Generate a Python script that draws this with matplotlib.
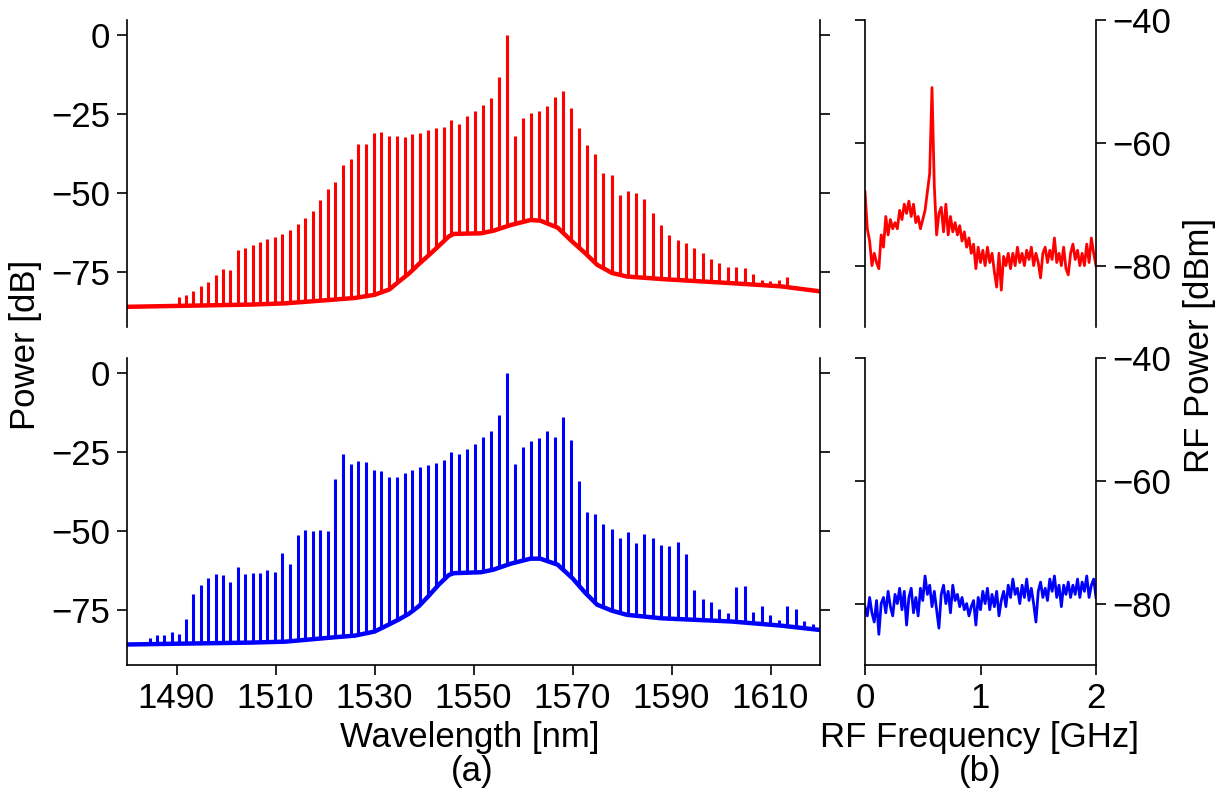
import matplotlib
matplotlib.use("Agg")
import matplotlib.pyplot as plt
import numpy as np

plt.rcParams['font.family'] = ['Liberation Sans', 'DejaVu Sans']
plt.rcParams['font.size'] = 25

# comb line wavelengths [nm] (~200 GHz grid)
comb_wl = [1484.60, 1486.06, 1487.53, 1489.00, 1490.47, 1491.95, 1493.43, 1494.91,
           1496.40, 1497.88, 1499.38, 1500.87, 1502.37, 1503.87, 1505.37, 1506.87,
           1508.38, 1509.89, 1511.41, 1512.93, 1514.45, 1515.97, 1517.50, 1519.03,
           1520.56, 1522.10, 1523.64, 1525.18, 1526.73, 1528.27, 1529.83, 1531.38,
           1532.94, 1534.50, 1536.07, 1537.63, 1539.21, 1540.78, 1542.36, 1543.94,
           1545.52, 1547.11, 1548.70, 1550.29, 1551.89, 1553.49, 1555.09, 1556.70,
           1558.31, 1559.92, 1561.54, 1563.16, 1564.78, 1566.41, 1568.04, 1569.68,
           1571.31, 1572.95, 1574.60, 1576.24, 1577.90, 1579.55, 1581.21, 1582.87,
           1584.53, 1586.20, 1587.87, 1589.55, 1591.23, 1592.91, 1594.60, 1596.29,
           1597.98, 1599.68, 1601.38, 1603.08, 1604.79, 1606.50, 1608.22, 1609.93,
           1611.66, 1613.38, 1615.11, 1616.85, 1618.58]

nan = float('nan')
red_peaks = [nan, nan, nan, nan, -82.9, -82.3, -81.2, -79.4,
             -78.2, -76.0, -74.0, -74.4, -68.0, -67.4, -66.5, -65.7,
             -64.6, -64.0, -63.1, -61.8, -60.0, -58.1, -55.6, -52.2,
             -48.8, -46.7, -41.3, -39.2, -34.4, -34.5, -31.1, -30.8,
             -32.1, -32.0, -32.3, -31.4, -31.0, -30.2, -29.5, -29.0,
             -27.0, -28.2, -25.5, -24.1, -22.2, -20.0, -13.4, 0.0,
             -31.9, -26.4, -24.6, -23.9, -22.5, -19.6, -17.6, -23.0,
             -29.3, -34.9, -37.8, -43.8, -44.2, -50.6, -49.3, -49.9,
             -52.0, -56.4, -60.3, -63.3, -65.0, -65.9, -67.6, -69.1,
             -70.9, -72.2, -73.5, -73.5, -73.8, -75.7, -77.6, -77.8,
             -77.6, -76.5, nan, nan, nan]

blue_peaks = [-84.0, -83.0, -83.0, -82.1, -82.8, -78.0, -69.9, -67.1,
              -65.0, -63.7, -63.9, -66.3, -61.3, -63.6, -63.4, -63.4,
              -62.4, -63.1, -57.0, -60.4, -51.2, -49.8, -49.9, -49.6,
              -49.9, -33.4, -25.6, -28.7, -27.7, -28.3, -30.8, -31.1,
              -32.8, -32.8, -31.6, -30.8, -29.9, -29.0, -28.4, -27.6,
              -25.0, -25.6, -23.9, -22.3, -20.3, -18.2, -13.4, 0.0,
              -28.7, -23.4, -21.6, -20.5, -18.4, -20.1, -14.0, -21.3,
              -34.3, -44.0, -44.6, -47.7, -49.4, -52.1, -50.4, -53.7,
              -51.1, -52.1, -54.4, -54.7, -53.5, -57.4, -68.8, -71.6,
              -72.4, -74.7, -76.1, -67.8, -67.4, -75.8, -73.7, -76.8,
              -78.2, -73.7, -74.8, -78.5, -79.6]

# ASE / noise floor under the comb
bg_wl = [1480, 1505, 1512, 1522, 1526, 1530, 1533, 1535, 1537, 1539, 1541, 1543,
         1545, 1546, 1551.5, 1554, 1557.5, 1561.5, 1563.5, 1567, 1570, 1572.5,
         1575, 1578, 1581, 1588, 1602, 1612, 1620]
red_bg = [-86.1, -85.4, -85.0, -83.8, -83.3, -82.3, -80.6, -78.0, -75.5, -72.5,
          -69.7, -66.8, -63.8, -63.0, -62.8, -62.0, -60.2, -58.6, -58.8, -61.0,
          -65.5, -69.0, -72.8, -75.4, -76.5, -77.3, -78.6, -79.6, -81.2]
blue_bg = [-86.0, -85.4, -85.1, -83.7, -83.2, -81.9, -79.6, -78.0, -76.2, -73.8,
           -70.5, -67.0, -64.0, -63.4, -63.1, -62.3, -60.4, -58.8, -58.8, -60.7,
           -65.0, -69.5, -73.4, -75.3, -76.6, -77.7, -78.7, -80.0, -81.4]

# RF spectra, 0 - 2 GHz
rf_freq = [0.00, 0.02, 0.04, 0.06, 0.08, 0.10, 0.12, 0.14, 0.16, 0.18,
           0.20, 0.22, 0.24, 0.26, 0.28, 0.30, 0.32, 0.34, 0.36, 0.38,
           0.40, 0.42, 0.44, 0.46, 0.48, 0.50, 0.52, 0.54, 0.56, 0.58,
           0.60, 0.62, 0.64, 0.66, 0.68, 0.70, 0.72, 0.74, 0.76, 0.78,
           0.80, 0.82, 0.84, 0.86, 0.88, 0.90, 0.92, 0.94, 0.96, 0.98,
           1.00, 1.02, 1.04, 1.06, 1.08, 1.10, 1.12, 1.14, 1.16, 1.18,
           1.20, 1.22, 1.24, 1.26, 1.28, 1.30, 1.32, 1.34, 1.36, 1.38,
           1.40, 1.42, 1.44, 1.46, 1.48, 1.50, 1.52, 1.54, 1.56, 1.58,
           1.60, 1.62, 1.64, 1.66, 1.68, 1.70, 1.72, 1.74, 1.76, 1.78,
           1.80, 1.82, 1.84, 1.86, 1.88, 1.90, 1.92, 1.94, 1.96, 1.98, 2.00]
rf_red = [-68, -74, -76, -80, -78, -79.5, -80.5, -75, -77, -72,
          -75, -72.5, -74, -73, -74, -71, -72.5, -70, -71.5, -69.5,
          -72, -70, -73, -72, -74, -72.5, -71, -68, -65, -51,
          -67, -75, -71.5, -70.5, -74.5, -70, -75, -72, -74.5, -73,
          -75, -73.5, -76, -74.5, -77, -75.5, -78, -76.5, -80.5, -77,
          -79.5, -77.5, -80, -77, -79.5, -78, -81, -83.5, -78, -84,
          -78.5, -80, -78, -80.5, -78, -80, -77, -79.5, -78, -80,
          -77.5, -79, -77, -80, -78, -79.5, -82, -78, -77, -79.5,
          -77.5, -79, -75.5, -79.5, -78, -80, -77, -80.5, -81.5, -78,
          -76.5, -79, -77.5, -80, -78, -80, -76.5, -79.5, -75.5, -78, -80]
rf_blue = [-80.5, -82, -79, -81.5, -83, -79.5, -85, -80, -79, -81.5,
           -78, -80.5, -82, -78.5, -80, -77.5, -81, -78, -83.5, -79,
           -77.5, -81.5, -79, -82, -77.5, -79.5, -75.5, -78.5, -77, -80.5,
           -78, -81, -84, -78.5, -77, -80, -78, -81.5, -77, -79.5,
           -78.5, -80.5, -79, -81, -80, -82, -80.5, -79.5, -83.5, -79,
           -81, -78, -80, -77.5, -81, -78.5, -80.5, -78, -82, -79.5,
           -78, -80.5, -77, -79, -76, -78.5, -77.5, -80, -77, -79,
           -76, -79.5, -77.5, -80, -83, -78, -76.5, -79, -77.5, -79.5,
           -76, -78, -75.5, -79, -77, -80.5, -77, -78.5, -76.5, -79,
           -77, -78.5, -76, -79, -76.5, -78, -75.5, -79, -77, -76, -79]

W, H = 1225, 802
fig = plt.figure(figsize=(W / 100, H / 100), dpi=100)


def box(x0, y0, x1, y1):
    # pixel box (top-left origin) -> figure fraction rect
    return [x0 / W, 1 - y1 / H, (x1 - x0) / W, (y1 - y0) / H]


ax_o1 = fig.add_axes(box(127, 20, 820, 327))
ax_o2 = fig.add_axes(box(127, 358, 820, 665))
ax_r1 = fig.add_axes(box(865, 20, 1096, 327))
ax_r2 = fig.add_axes(box(865, 358, 1096, 665))

comb = np.array(comb_wl)
for ax, peaks, bg, col in [(ax_o1, red_peaks, red_bg, 'red'),
                           (ax_o2, blue_peaks, blue_bg, 'blue')]:
    peaks = np.array(peaks)
    ok = ~np.isnan(peaks)
    base = np.interp(comb[ok], bg_wl, bg)
    ax.plot(bg_wl, bg, color=col, lw=3.2, solid_joinstyle='round')
    ax.vlines(comb[ok], base, peaks[ok], color=col, lw=2.2)
    ax.set_xlim(1480, 1620)
    ax.set_ylim(-92.5, 4.8)
    ax.set_yticks([0, -25, -50, -75])
    ax.set_xticks([1490, 1510, 1530, 1550, 1570, 1590, 1610])
    ax.tick_params(direction='out', length=7, width=1.2, left=True, right=True,
                   labelright=False, pad=5)
    ax.spines['top'].set_visible(False)

for ax, vals, col in [(ax_r1, rf_red, 'red'), (ax_r2, rf_blue, 'blue')]:
    ax.plot(rf_freq, vals, color=col, lw=2)
    ax.set_xlim(0, 2)
    ax.set_ylim(-90, -40)
    ax.set_yticks([-40, -60, -80])
    ax.set_xticks([0, 1, 2])
    ax.tick_params(direction='out', length=7, width=1.2, left=True, right=True,
                   labelleft=False, labelright=True, pad=5)
    ax.spines['top'].set_visible(False)

for ax in [ax_o1, ax_r1]:
    ax.spines['bottom'].set_visible(False)
    ax.tick_params(bottom=False, labelbottom=False)

for ax in fig.axes:
    for s in ax.spines.values():
        s.set_linewidth(1.2)

fig.text(26 / W, 1 - 345 / H, 'Power [dB]', rotation=90, ha='center', va='center')
fig.text(1199 / W, 1 - 345 / H, 'RF Power [dBm]', rotation=90, ha='center', va='center')
fig.text(470 / W, 1 - 738 / H, 'Wavelength [nm]', ha='center', va='center')
fig.text(472 / W, 1 - 772 / H, '(a)', ha='center', va='center')
fig.text(980 / W, 1 - 738 / H, 'RF Frequency [GHz]', ha='center', va='center')
fig.text(980 / W, 1 - 772 / H, '(b)', ha='center', va='center')

fig.savefig('out.png', dpi=100)
